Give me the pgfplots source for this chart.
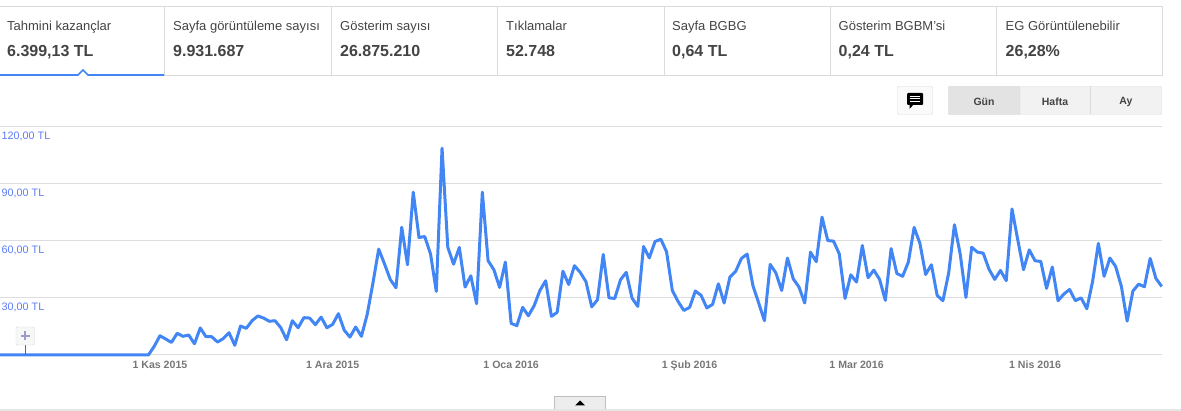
\documentclass[border=0pt]{standalone}
\usepackage{pgfplots}
\pgfplotsset{compat=1.18}
\usepackage{fontspec}
\setmainfont{Liberation Sans}
\definecolor{gline}{HTML}{4285F4}
\definecolor{gridc}{HTML}{DDDDDD}
\definecolor{txtc}{HTML}{444444}
\definecolor{tickb}{HTML}{5C7CF5}
\definecolor{tickg}{HTML}{777777}
\definecolor{bordc}{HTML}{DADADA}
\begin{document}
\begin{tikzpicture}[x=1pt,y=1pt]
\path[use as bounding box] (0,0) rectangle (1181,411);
\begin{axis}[
  at={(0pt,56pt)}, anchor=south west, scale only axis,
  width=1161.7pt, height=228.5pt,
  xmin=-27.78, xmax=174, ymin=0, ymax=120,
  axis line style={draw=none}, major tick length=0pt,
  clip=false,
  ymajorgrids, major grid style={gridc,line width=1pt},
  ytick={0,30,60,90,120},
  yticklabels={{},{30,00 TL},{60,00 TL},{90,00 TL},{120,00 TL}},
  yticklabel style={anchor=north west,inner sep=0pt,xshift=1.5pt,yshift=-5pt,font=\fontsize{10.8}{12}\selectfont,text=tickb},
  xtick={0,30,61,92,121,152},
  xticklabels={1 Kas 2015,1 Ara 2015,1 Oca 2016,1 Şub 2016,1 Mar 2016,1 Nis 2016},
  xticklabel style={anchor=north,inner sep=0pt,yshift=-6pt,font=\fontsize{10.6}{12}\selectfont\bfseries,text=tickg},
]
\addplot[gline,line width=3pt,line join=round] coordinates {
(-27.78,0)(-2,0)(-1,4.5)(0,10.1)(1,8.4)(2,6.6)(3,11.4)(4,9.8)(5,10.5)(6,5.9)(7,14.2)(8,9.6)(9,9.6)
(10,6.8)(11,8.6)(12,11.7)(13,5.1)(14,15.2)(15,14)(16,18)(17,20.5)(18,19.4)(19,17.7)(20,18)(21,14.3)
(22,8)(23,18)(24,14.3)(25,19.6)(26,19.4)(27,15.9)(28,19.9)(29,14.3)(30,16.1)(31,21.7)(32,13.1)(33,9.4)
(34,14.7)(35,9.8)(36,21.3)(37,37.8)(38,55.6)(39,47.9)(40,39.7)(41,35.3)
(42,67.1)(43,47.4)(44,85.5)(45,61.7)(46,62.2)(47,53.1)(48,33.4)(49,108.6)(50,56.6)(51,47.7)(52,56.5)
(53,35.7)(54,41.6)(55,26.9)(56,85.5)(57,49.5)(58,44.8)(59,35.5)(60,48.8)(61,16.6)(62,15.4)(63,25)
(64,20.6)(65,25.9)(66,33.9)(67,39)(68,20.3)(69,22.4)(70,44)(71,37)(72,46.9)(73,43.4)(74,38.5)(75,25.3)
(76,29)(77,52.8)(78,30)(79,29.7)(80,39.5)(81,43.4)(82,29.9)(83,25.5)(84,57)(85,51)(86,59.6)(87,60.8)
(88,54.2)(89,33.9)(90,28.1)(91,23.4)(92,25)(93,33.6)(94,31.3)(95,24.7)(96,26.6)(97,37.4)(98,27.3)
(99,40.9)(100,43.9)(101,50.7)(102,53)(103,36.4)(104,27.3)(105,18)(106,47.6)(107,43)
(108,33.9)(109,50.9)(110,40)(111,35.7)(112,27.3)(113,54)(114,49)(115,72.4)(116,60.1)(117,59.8)(118,53.1)
(119,29.7)(120,42.1)(121,38.3)(122,57.5)(123,40.6)(124,44.6)(125,39.7)(126,28.7)(127,55.9)(128,42.8)
(129,41.3)(130,48.8)(131,67)(132,58.7)(133,42.3)(134,47.4)(135,31.3)(136,28.5)(137,43)(138,68.4)(139,53.1)
(140,30.2)(141,56.6)(142,54)(143,53.5)(144,45.1)(145,39.7)(146,44.4)(147,39)(148,76.7)(149,60.5)(150,44.8)
(151,55.2)(152,49.5)(153,49.1)(154,35)(155,46.2)(156,28.5)(157,32)(158,34.4)(159,28.5)(160,30)(161,24.3)
(162,38.6)(163,58.6)(164,41.3)(165,50.9)(166,46.5)(167,36)(168,17.8)(169,33.6)(170,37.2)(171,35.8)
(172,50.7)(173,40.2)(174,36)
};
\end{axis}
\begin{scope}[shift={(0,411)},y=-1pt]
  % KPI cards
  \draw[bordc,line width=1pt] (0,6.5)--(1162.5,6.5)--(1162.5,75.5)--(164,75.5);
  \foreach \xx in {164.5,331,497.5,664,830,996.5}
    \draw[bordc,line width=1pt] (\xx,6.5)--(\xx,75.5);
  \draw[gline,line width=1.6pt] (0,75)--(78,75)--(83,70)--(88,75)--(164,75);
  \foreach \xx/\aa/\bb in {7/Tahmini kazançlar/{6.399,13 TL},173/Sayfa görüntüleme sayısı/9.931.687,340/Gösterim sayısı/26.875.210,506/Tıklamalar/52.748,672/Sayfa BGBG/{0,64 TL},838.5/Gösterim BGBM'si/{0,24 TL},1005.5/EG Görüntülenebilir/{26,28\%}}{
    \node[anchor=base west,inner sep=0pt,text=txtc,font=\fontsize{13}{15}\selectfont] at (\xx,30.5) {\aa};
    \node[anchor=base west,inner sep=0pt,text=txtc,font=\fontsize{16}{18}\selectfont\bfseries] at (\xx,57) {\bb};
  }
  % comment button
  \draw[bordc,fill=black!2,rounded corners=1pt] (897.5,86.5) rectangle (932.5,114.5);
  \fill[black,rounded corners=1pt] (907,93) rectangle (923,105);
  \fill[black] (909.5,104)--(909.5,109)--(914,104)--cycle;
  \draw[white,line width=.8pt] (910,96)--(920,96) (910,98.5)--(920,98.5) (910,101)--(920,101);
  % view buttons
  \draw[bordc,fill=black!5,rounded corners=1pt] (948.5,86.5) rectangle (1161.5,114.5);
  \draw[bordc,fill=black!11,rounded corners=1pt] (948.5,86.5) rectangle (1020,114.5);
  \draw[bordc] (1090.5,86.5)--(1090.5,114.5);
  \node[text=txtc,inner sep=0pt,font=\fontsize{10.5}{12}\selectfont\bfseries] at (984,102) {Gün};
  \node[text=txtc,inner sep=0pt,font=\fontsize{10.5}{12}\selectfont\bfseries] at (1055,102) {Hafta};
  \node[text=txtc,inner sep=0pt,font=\fontsize{10.5}{12}\selectfont\bfseries] at (1126,102) {Ay};
  % annotation marker
  \draw[black!60,line width=.7pt] (25.5,345)--(25.5,355);
  \draw[bordc,fill=black!3,rounded corners=1pt] (16,327) rectangle (34.5,345);
  \draw[blue!30!gray!60,line width=2.2pt] (20.5,336)--(30,336) (25.3,331.5)--(25.3,340.5);
  % bottom
  \draw[black!10,line width=2pt] (0,410)--(1183,410);
  \draw[black!25,fill=black!7] (554.5,409)--(554.5,396.5)--(605.5,396.5)--(605.5,409);
  \fill[black] (575,405.5)--(580,400.5)--(585,405.5)--cycle;
\end{scope}
\end{tikzpicture}
\end{document}
